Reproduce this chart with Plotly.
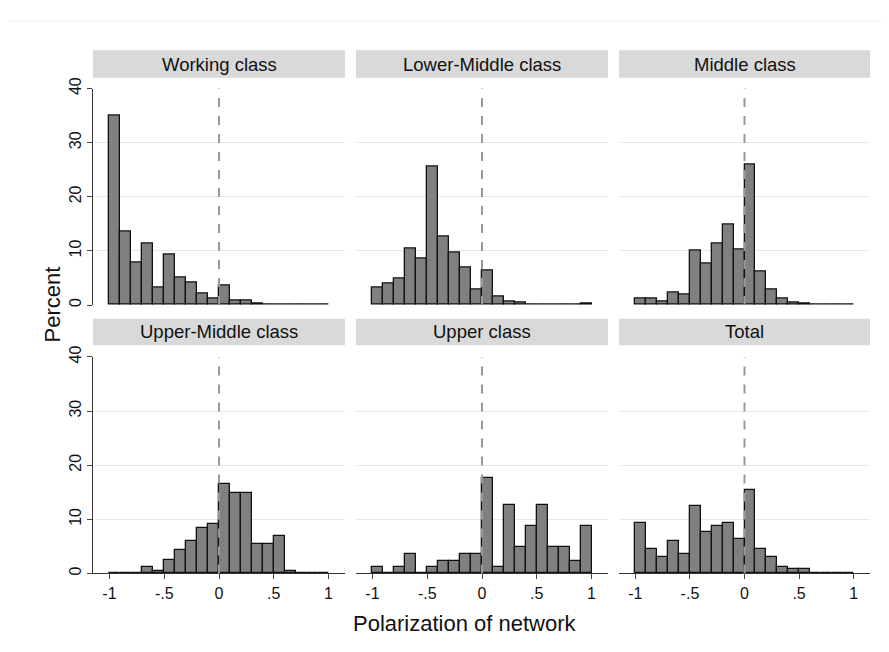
import plotly.graph_objects as go

titles = ["Working class", "Lower-Middle class", "Middle class",
          "Upper-Middle class", "Upper class", "Total"]
bin_left = [round(-1 + 0.1 * i, 1) for i in range(20)]
working = [35, 13.6, 7.9, 11.3, 3.2, 9.3, 5.1, 4.2, 2.1, 1.2, 3.6, 0.9, 0.9, 0.3, 0.1, 0.1, 0.1, 0, 0.1, 0.1]
lower_mid = [3.2, 4.0, 4.9, 10.4, 8.6, 25.5, 12.7, 9.7, 7.0, 2.8, 6.4, 1.6, 0.7, 0.5, 0.1, 0.1, 0, 0, 0, 0.2]
middle = [1.2, 1.2, 0.7, 2.3, 2.0, 10.0, 7.7, 11.3, 14.8, 10.3, 25.9, 6.1, 2.9, 1.2, 0.5, 0.25, 0.1, 0.1, 0.1, 0]
upper_mid = [0.1, 0, 0.1, 1.2, 0.4, 2.5, 4.3, 6.0, 8.4, 9.1, 16.5, 14.8, 14.8, 5.4, 5.4, 6.9, 0.5, 0.1, 0.1, 0.1]
upper = [1.2, 0, 1.2, 3.6, 0, 1.2, 2.3, 2.3, 3.6, 3.6, 17.7, 1.2, 12.6, 4.9, 8.7, 12.6, 4.9, 4.9, 2.3, 8.7]
total = [9.3, 4.5, 3.1, 6.0, 3.6, 12.4, 7.7, 8.7, 9.3, 6.4, 15.5, 4.6, 3.1, 1.2, 0.9, 0.9, 0.1, 0.1, 0.1, 0.1]
series = [working, lower_mid, middle, upper_mid, upper, total]
x_ticks = [-1, -0.5, 0, 0.5, 1]
x_tick_text = ["-1", "-.5", "0", ".5", "1"]
y_ticks = [0, 10, 20, 30, 40]

OFF = 8
W, H = 889 - 2 * OFF, 652 - 2 * OFF
cols = [(93, 345), (356, 608), (619, 870)]
rows = [(79, 300, 40, 68), (353, 574, 314, 341)]

def px(x):
    return (x - OFF) / W

def py(y):
    return 1 - (y - OFF) / H

fig = go.Figure()
layout = dict(width=W, height=H, margin=dict(l=0, r=0, t=0, b=0),
              paper_bgcolor="white", plot_bgcolor="white", showlegend=False,
              font=dict(family="Liberation Sans, Arial", color="#111", size=13),
              bargap=0)
shapes, annotations = [], []
xc = [b + 0.05 for b in bin_left]
for i, vals in enumerate(series):
    r, c = divmod(i, 3)
    x0, x1 = cols[c]
    y0, y1, s0, s1 = rows[r]
    n = i + 1
    xa, ya = ("x" if n == 1 else f"x{n}"), ("y" if n == 1 else f"y{n}")
    fig.add_trace(go.Bar(x=xc, y=vals, width=0.1, xaxis=xa, yaxis=ya,
                         marker=dict(color="#808080", line=dict(color="#111", width=1.3))))
    layout["xaxis" if n == 1 else f"xaxis{n}"] = dict(
        domain=[px(x0), px(x1)], range=[-1.15, 1.15], anchor=ya,
        tickvals=x_ticks, ticktext=x_tick_text, showticklabels=(r == 1),
        ticks="outside" if r == 1 else "", ticklen=5, showline=(r == 1),
        linecolor="#333", showgrid=False, zeroline=False)
    layout["yaxis" if n == 1 else f"yaxis{n}"] = dict(
        domain=[py(y1), py(y0)], range=[0, 40], anchor=xa,
        tickvals=y_ticks, showticklabels=(c == 0), tickangle=-90,
        ticks="outside" if c == 0 else "", ticklen=5, showline=(c == 0),
        linecolor="#333", showgrid=True, gridcolor="#e8e8e8", zeroline=False)
    shapes.append(dict(type="line", xref=xa, yref=f"{ya} domain", x0=0, x1=0, y0=0, y1=1,
                       line=dict(color="#999", width=2, dash="dash")))
    shapes.append(dict(type="rect", xref="paper", yref="paper", x0=px(x0), x1=px(x1),
                       y0=py(s1), y1=py(s0), fillcolor="#d9d9d9", line=dict(width=0),
                       layer="below"))
    annotations.append(dict(text=titles[i], xref="paper", yref="paper",
                            x=px((x0 + x1) / 2), y=py((s0 + s1) / 2),
                            showarrow=False, font=dict(size=18.5), xanchor="center", yanchor="middle"))
annotations.append(dict(text="Percent", xref="paper", yref="paper", x=px(38), y=py(300),
                        textangle=-90, showarrow=False, font=dict(size=22)))
annotations.append(dict(text="Polarization of network", xref="paper", yref="paper",
                        x=px(465), y=py(640), showarrow=False, font=dict(size=22),
                        yanchor="bottom"))
shapes.append(dict(type="line", xref="paper", yref="paper", x0=0, x1=1, y0=py(10), y1=py(10),
                   line=dict(color="#eee", width=1)))
layout["shapes"] = shapes
layout["annotations"] = annotations
fig.update_layout(**layout)
fig.update_xaxes(tickfont=dict(size=16))
fig.update_yaxes(tickfont=dict(size=16))
fig.write_html("out.html")
